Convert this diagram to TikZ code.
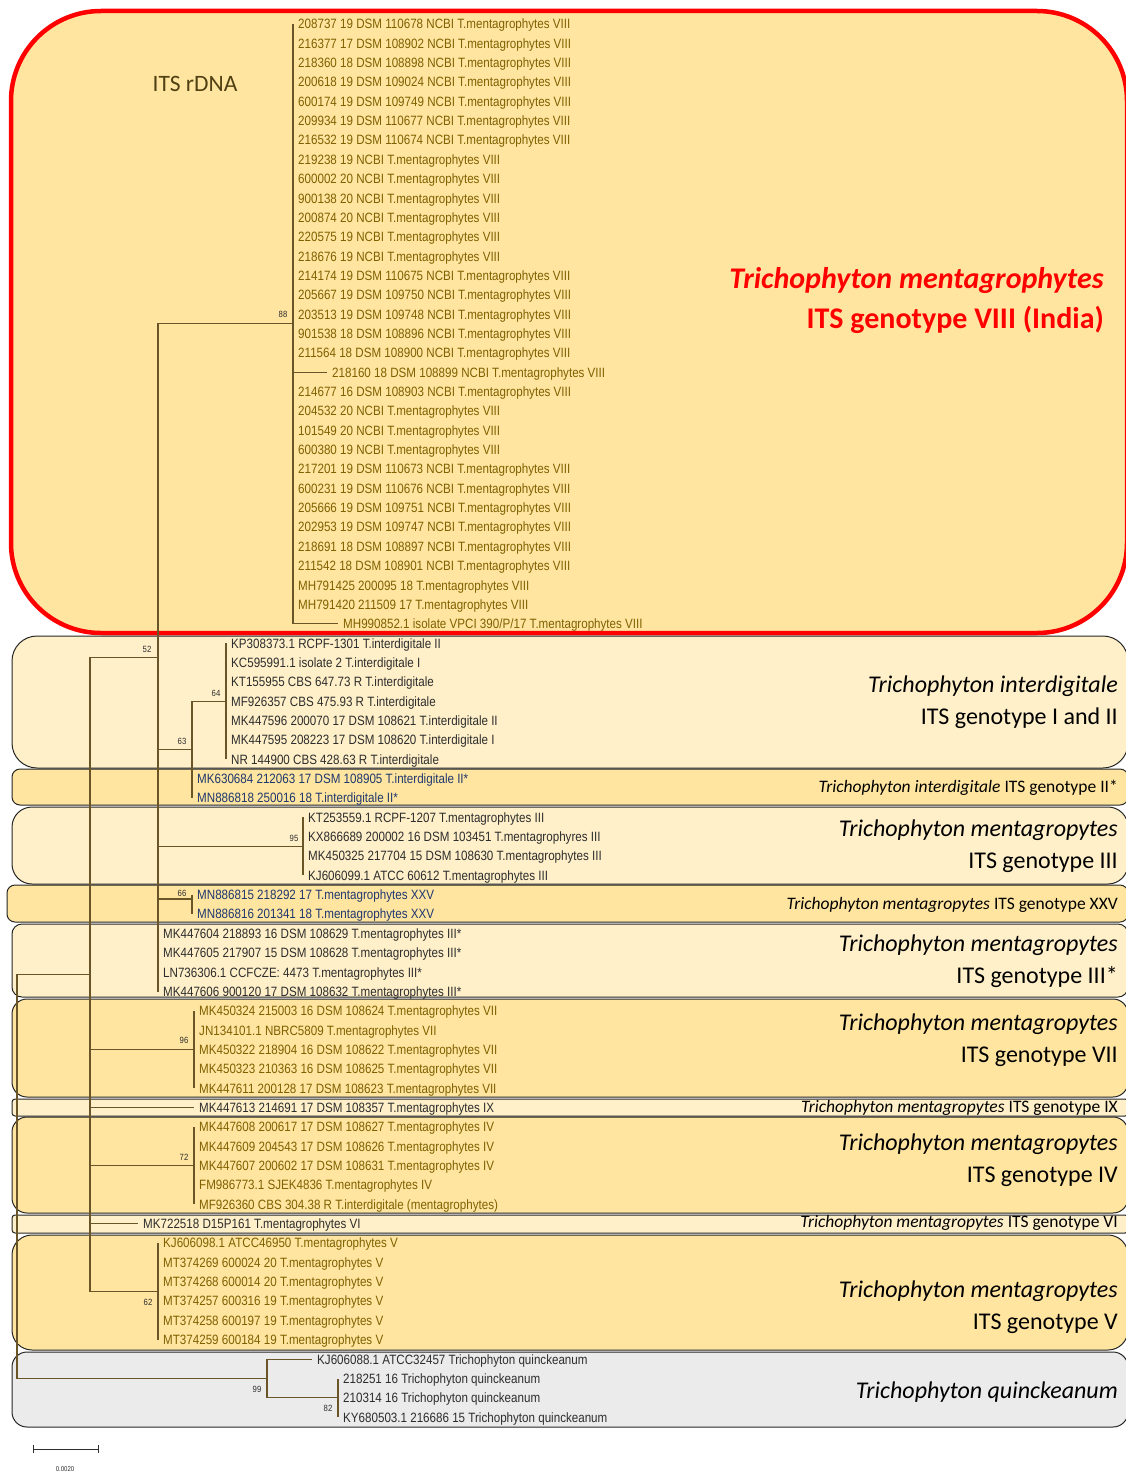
\documentclass[tikz,border=0pt]{standalone}
\usepackage{fontspec}
\setmainfont{Carlito}
\newfontfamily\leaffam[FakeStretch=0.86]{Liberation Sans}
\usepackage{tikz}
\definecolor{branch}{RGB}{105,85,40}
\definecolor{olivetext}{RGB}{128,96,0}
\definecolor{darktext}{RGB}{45,45,45}
\definecolor{navytext}{RGB}{31,56,110}
\definecolor{paleband}{RGB}{255,240,201}
\definecolor{goldband}{RGB}{255,229,160}
\definecolor{greyband}{RGB}{235,235,235}
\definecolor{rdnatext}{RGB}{80,65,20}

\begin{document}
\begin{tikzpicture}[x=1pt,y=-1pt,
  leaf/.style={anchor=west,inner sep=0pt,text height=9.7pt,text depth=0pt,font=\leaffam\fontsize{13.5}{15}\selectfont},
  boot/.style={inner sep=0pt,text=darktext,font=\leaffam\fontsize{9}{10}\selectfont},
  br/.style={draw=branch,line width=1.1pt},
  band/.style={draw=black!85,line width=1pt,rounded corners=#1},
  bandname/.style={anchor=east,inner sep=0pt,align=right,font=\fontsize{24}{32}\selectfont},
  bandline/.style={anchor=east,inner sep=0pt,font=\fontsize{17.5}{19}\selectfont}]
\useasboundingbox (0,0) rectangle (1126,1472);

\draw[band=90,draw=red,line width=4.5pt,fill=goldband] (11,11) rectangle (1127,633);
\foreach \xa/\ya/\yb/\r/\col in {12/636/768/25/paleband,12/769/805/8/goldband,12/807/884/20/paleband,
    7/885/922/8/goldband,12/924/997/10/paleband,12/999/1097/15/goldband,12/1099/1116/3/paleband,
    12/1117/1213/15/goldband,12/1215/1233/3/paleband,12/1235/1350/20/goldband,12/1352/1427/15/greyband}
  \draw[band=\r,fill=\col] (\xa,\ya) rectangle (1128,\yb);

\coordinate (root) at (17,1176.6);
\coordinate (nin) at (90,974.6);
\coordinate (n52) at (158,657.7);
\coordinate (n88) at (293,323.9);
\coordinate (n63) at (192,749.6);
\coordinate (n64) at (226,701.2);
\coordinate (n95) at (303,846.4);
\coordinate (n66) at (192,899);
\coordinate (n96) at (194,1049.6);
\coordinate (n72) at (194,1165.7);
\coordinate (n62) at (158,1291.5);
\coordinate (n99) at (267,1378.5);
\coordinate (n82) at (338,1397.9);

\draw[br] (root) |- (nin);
\draw[br] (root) |- (n99);
\foreach \ch in {n52,n96,n72,n62} \draw[br] (nin) |- (\ch);
\foreach \ch in {n88,n63,n95,n66} \draw[br] (n52) |- (\ch);
\draw[br] (n63) |- (n64);
\draw[br] (n99) |- (n82);

\foreach \pa/\tx/\col/\txt [count=\k from 0] in {
  n88/293/olivetext/208737 19 DSM 110678 NCBI T.mentagrophytes VIII,
  n88/293/olivetext/216377 17 DSM 108902 NCBI T.mentagrophytes VIII,
  n88/293/olivetext/218360 18 DSM 108898 NCBI T.mentagrophytes VIII,
  n88/293/olivetext/200618 19 DSM 109024 NCBI T.mentagrophytes VIII,
  n88/293/olivetext/600174 19 DSM 109749 NCBI T.mentagrophytes VIII,
  n88/293/olivetext/209934 19 DSM 110677 NCBI T.mentagrophytes VIII,
  n88/293/olivetext/216532 19 DSM 110674 NCBI T.mentagrophytes VIII,
  n88/293/olivetext/219238 19 NCBI T.mentagrophytes VIII,
  n88/293/olivetext/600002 20 NCBI T.mentagrophytes VIII,
  n88/293/olivetext/900138 20 NCBI T.mentagrophytes VIII,
  n88/293/olivetext/200874 20 NCBI T.mentagrophytes VIII,
  n88/293/olivetext/220575 19 NCBI T.mentagrophytes VIII,
  n88/293/olivetext/218676 19 NCBI T.mentagrophytes VIII,
  n88/293/olivetext/214174 19 DSM 110675 NCBI T.mentagrophytes VIII,
  n88/293/olivetext/205667 19 DSM 109750 NCBI T.mentagrophytes VIII,
  n88/293/olivetext/203513 19 DSM 109748 NCBI T.mentagrophytes VIII,
  n88/293/olivetext/901538 18 DSM 108896 NCBI T.mentagrophytes VIII,
  n88/293/olivetext/211564 18 DSM 108900 NCBI T.mentagrophytes VIII,
  n88/327/olivetext/218160 18 DSM 108899 NCBI T.mentagrophytes VIII,
  n88/293/olivetext/214677 16 DSM 108903 NCBI T.mentagrophytes VIII,
  n88/293/olivetext/204532 20 NCBI T.mentagrophytes VIII,
  n88/293/olivetext/101549 20 NCBI T.mentagrophytes VIII,
  n88/293/olivetext/600380 19 NCBI T.mentagrophytes VIII,
  n88/293/olivetext/217201 19 DSM 110673 NCBI T.mentagrophytes VIII,
  n88/293/olivetext/600231 19 DSM 110676 NCBI T.mentagrophytes VIII,
  n88/293/olivetext/205666 19 DSM 109751 NCBI T.mentagrophytes VIII,
  n88/293/olivetext/202953 19 DSM 109747 NCBI T.mentagrophytes VIII,
  n88/293/olivetext/218691 18 DSM 108897 NCBI T.mentagrophytes VIII,
  n88/293/olivetext/211542 18 DSM 108901 NCBI T.mentagrophytes VIII,
  n88/293/olivetext/MH791425 200095 18 T.mentagrophytes VIII,
  n88/293/olivetext/MH791420 211509 17 T.mentagrophytes VIII,
  n88/338/olivetext/{MH990852.1 isolate VPCI 390/P/17 T.mentagrophytes VIII},
  n64/226/darktext/KP308373.1 RCPF-1301 T.interdigitale II,
  n64/226/darktext/KC595991.1 isolate 2 T.interdigitale I,
  n64/226/darktext/KT155955 CBS 647.73 R T.interdigitale,
  n64/226/darktext/MF926357 CBS 475.93 R T.interdigitale,
  n64/226/darktext/MK447596 200070 17 DSM 108621 T.interdigitale II,
  n64/226/darktext/MK447595 208223 17 DSM 108620 T.interdigitale I,
  n64/226/darktext/NR 144900 CBS 428.63 R T.interdigitale,
  n63/192/navytext/MK630684 212063 17 DSM 108905 T.interdigitale II*,
  n63/192/navytext/MN886818 250016 18 T.interdigitale II*,
  n95/303/darktext/KT253559.1 RCPF-1207 T.mentagrophytes III,
  n95/303/darktext/KX866689 200002 16 DSM 103451 T.mentagrophyres III,
  n95/303/darktext/MK450325 217704 15 DSM 108630 T.mentagrophytes III,
  n95/303/darktext/KJ606099.1 ATCC 60612 T.mentagrophytes III,
  n66/192/navytext/MN886815 218292 17 T.mentagrophytes XXV,
  n66/192/navytext/MN886816 201341 18 T.mentagrophytes XXV,
  n52/158/darktext/MK447604 218893 16 DSM 108629 T.mentagrophytes III*,
  n52/158/darktext/MK447605 217907 15 DSM 108628 T.mentagrophytes III*,
  n52/158/darktext/LN736306.1 CCFCZE: 4473 T.mentagrophytes III*,
  n52/158/darktext/MK447606 900120 17 DSM 108632 T.mentagrophytes III*,
  n96/194/olivetext/MK450324 215003 16 DSM 108624 T.mentagrophytes VII,
  n96/194/olivetext/JN134101.1 NBRC5809 T.mentagrophytes VII,
  n96/194/olivetext/MK450322 218904 16 DSM 108622 T.mentagrophytes VII,
  n96/194/olivetext/MK450323 210363 16 DSM 108625 T.mentagrophytes VII,
  n96/194/olivetext/MK447611 200128 17 DSM 108623 T.mentagrophytes VII,
  nin/194/darktext/MK447613 214691 17 DSM 108357 T.mentagrophytes IX,
  n72/194/olivetext/MK447608 200617 17 DSM 108627 T.mentagrophytes IV,
  n72/194/olivetext/MK447609 204543 17 DSM 108626 T.mentagrophytes IV,
  n72/194/olivetext/MK447607 200602 17 DSM 108631 T.mentagrophytes IV,
  n72/194/olivetext/FM986773.1 SJEK4836 T.mentagrophytes IV,
  n72/194/olivetext/MF926360 CBS 304.38 R T.interdigitale (mentagrophytes),
  nin/138/darktext/MK722518 D15P161 T.mentagrophytes VI,
  n62/158/olivetext/KJ606098.1 ATCC46950 T.mentagrophytes V,
  n62/158/olivetext/MT374269 600024 20 T.mentagrophytes V,
  n62/158/olivetext/MT374268 600014 20 T.mentagrophytes V,
  n62/158/olivetext/MT374257 600316 19 T.mentagrophytes V,
  n62/158/olivetext/MT374258 600197 19 T.mentagrophytes V,
  n62/158/olivetext/MT374259 600184 19 T.mentagrophytes V,
  n99/312/darktext/KJ606088.1 ATCC32457 Trichophyton quinckeanum,
  n82/338/darktext/218251 16 Trichophyton quinckeanum,
  n82/338/darktext/210314 16 Trichophyton quinckeanum,
  n82/338/darktext/KY680503.1 216686 15 Trichophyton quinckeanum}{
  \coordinate (t\k) at (\tx,{24+19.35*\k});
  \draw[br] (\pa) |- (t\k);
  \node[leaf,text=\col] (l\k) at ([xshift=5pt]t\k) {\txt};
}

\foreach \n/\bx/\by in {88/283/314,52/147/649,64/216/693,63/182/741,95/294/838,66/182/893,
    96/184/1040,72/184/1157,62/148/1302,99/257/1389,82/328/1408}
  \node[boot] (b\n) at (\bx,\by) {\n};

\node[font=\fontsize{23.5}{26}\selectfont,text=rdnatext] (rdna) at (195,84) {ITS rDNA};
\node[bandname,text=red,font=\bfseries\fontsize{30}{40}\selectfont] (gVIII) at (1104,301) {\textit{Trichophyton mentagrophytes}\\ITS genotype VIII (India)};
\node[bandname] (gI) at (1118,702) {\textit{Trichophyton interdigitale}\\ITS genotype I and II};
\node[bandline] (gIIs) at (1118,788) {\textit{Trichophyton interdigitale} ITS genotype II*};
\node[bandname] (gIII) at (1118,846) {\textit{Trichophyton mentagropytes}\\ITS genotype III};
\node[bandline] (gXXV) at (1118,905) {\textit{Trichophyton mentagropytes} ITS genotype XXV};
\node[bandname] (gIIIs) at (1118,961) {\textit{Trichophyton mentagropytes}\\ITS genotype III*};
\node[bandname] (gVII) at (1118,1040) {\textit{Trichophyton mentagropytes}\\ITS genotype VII};
\node[bandline] (gIX) at (1118,1108) {\textit{Trichophyton mentagropytes} ITS genotype IX};
\node[bandname] (gIV) at (1118,1160) {\textit{Trichophyton mentagropytes}\\ITS genotype IV};
\node[bandline] (gVI) at (1118,1223) {\textit{Trichophyton mentagropytes} ITS genotype VI};
\node[bandname] (gV) at (1118,1307) {\textit{Trichophyton mentagropytes}\\ITS genotype V};
\node[bandname] (gQ) at (1118,1392) {\textit{Trichophyton quinckeanum}};

\coordinate (sbl) at (33,1449);
\coordinate (sbr) at (99,1449);
\draw[|-|,draw=darktext,line width=1pt] (sbl) -- (sbr);
\node[boot,font=\leaffam\fontsize{7}{8}\selectfont] (sbtext) at (65,1469) {0.0020};
\end{tikzpicture}
\end{document}
